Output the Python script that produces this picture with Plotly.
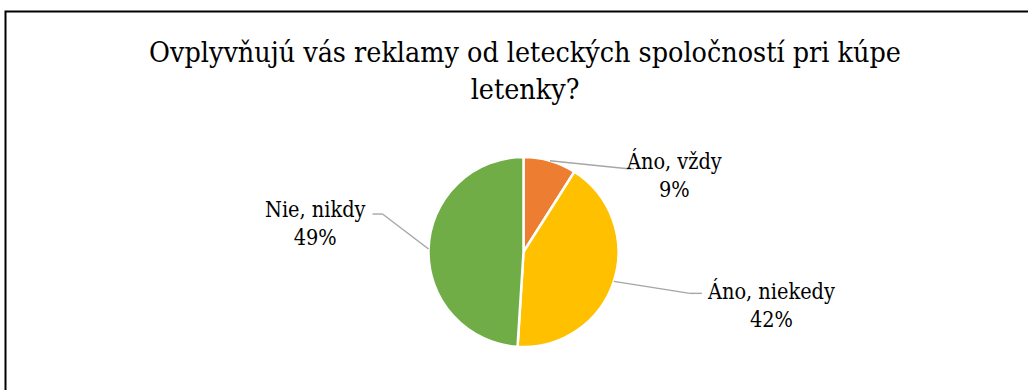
import math
import plotly.graph_objects as go

# ---- data ----
categories = ["Áno, vždy", "Áno, niekedy", "Nie, nikdy"]
values = [9, 42, 49]
colors = ["#ED7D31", "#FFC000", "#70AD47"]
title_text = "Ovplyvňujú vás reklamy od leteckých spoločností pri kúpe<br>letenky?"

# ---- layout constants (pixels) ----
W, H = 1028, 390
CX, CY, R = 523.5, 252, 95
FONT = "DejaVu Serif Condensed"


def px(x):
    return x / W


def py(y):
    return 1 - y / H


label_style = [
    dict(elbow=(78, 8), end=(84, 8), text=(124, 14)),
    dict(elbow=(76, 12), end=(88, 12), text=(157, 24)),
    dict(elbow=(-46, -35), end=(-56, -35), text=(-113, -26)),
]

fig = go.Figure(
    go.Pie(
        labels=categories,
        values=values,
        sort=False,
        direction="clockwise",
        rotation=0,
        marker=dict(colors=colors, line=dict(color="white", width=2.5)),
        textinfo="none",
        hoverinfo="label+percent",
        showlegend=False,
        domain=dict(x=[px(CX - R), px(CX + R)], y=[py(CY + R), py(CY - R)]),
    )
)

shapes = []
annotations = []
total = sum(values)
cum = 0
for cat, v, st in zip(categories, values, label_style):
    mid = (cum + v / 2) / total * 2 * math.pi
    cum += v
    ex = CX + R * math.sin(mid)
    ey = CY - R * math.cos(mid)
    bx, by = ex + st["elbow"][0], ey + st["elbow"][1]
    fx, fy = ex + st["end"][0], ey + st["end"][1]
    for (x0, y0, x1, y1) in [(ex, ey, bx, by), (bx, by, fx, fy)]:
        shapes.append(dict(type="line", xref="paper", yref="paper",
                           x0=px(x0), y0=py(y0), x1=px(x1), y1=py(y1),
                           line=dict(color="#A6A6A6", width=1.4)))
    tx, ty = ex + st["text"][0], ey + st["text"][1]
    pct = round(v / total * 100)
    annotations.append(dict(
        x=px(tx), y=py(ty), xref="paper", yref="paper",
        text=f"{cat}<br>{pct}%", showarrow=False, align="center",
        xanchor="center", yanchor="middle",
        font=dict(family=FONT, size=21.5, color="#000000"),
    ))

shapes.append(dict(type="rect", xref="paper", yref="paper",
                   x0=px(5.5), y0=py(H + 20), x1=px(W + 20), y1=py(11.5),
                   line=dict(color="#000000", width=2), fillcolor="rgba(0,0,0,0)"))

fig.update_layout(
    width=W, height=H,
    margin=dict(l=0, r=0, t=0, b=0),
    paper_bgcolor="white",
    plot_bgcolor="white",
    font=dict(family=FONT),
    title=dict(text=title_text, x=px(525), xanchor="center",
               y=py(62), yanchor="middle",
               font=dict(family=FONT, size=28.4, color="#000000")),
    shapes=shapes,
    annotations=annotations,
)

fig.write_html("out.html")
